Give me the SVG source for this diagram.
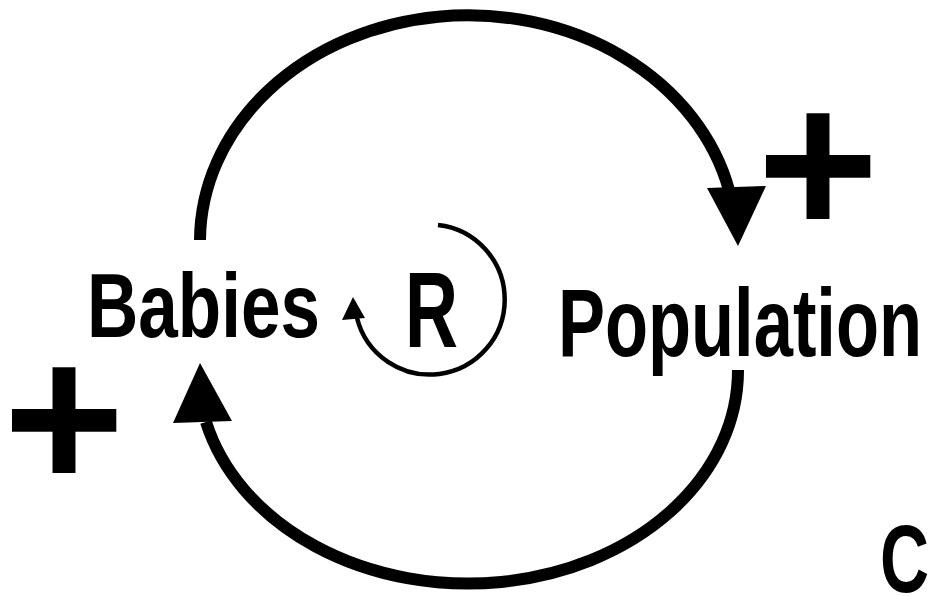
<svg xmlns="http://www.w3.org/2000/svg" width="933" height="596" viewBox="0 0 933 596">
<style>
.lbl{font-family:"Liberation Sans",Arial,sans-serif;font-weight:bold;fill:#000}
.big{fill:none;stroke:#000;stroke-width:12}
.thin{fill:none;stroke:#000;stroke-width:4.5}
.head{fill:#000}
</style>
<rect width="933" height="596" fill="#fff"/>
<g id="babies"><text class="lbl" x="87" y="337" font-size="90" textLength="233" lengthAdjust="spacingAndGlyphs">Babies</text></g>
<g id="population"><text class="lbl" x="558" y="356" font-size="96" textLength="364" lengthAdjust="spacingAndGlyphs">Population</text></g>
<g id="connectors">
<path class="big" d="M 200 240 A 268 226 0 0 1 729 190"/>
<polygon class="head" points="707,188 766,186 738,246"/>
<path class="big" d="M 738 370 A 270 213 0 0 1 206 422"/>
<polygon class="head" points="173,423 232,421 200,363"/>
<text class="lbl" x="818" y="235" font-size="208" text-anchor="middle">+</text>
<text class="lbl" x="64" y="489" font-size="208" text-anchor="middle">+</text>
</g>
<g id="loop">
<path class="thin" d="M 438 225 A 75 75 0 1 1 357 318"/>
<polygon class="head" points="342,320 365,318 353,297"/>
<text class="lbl" x="405" y="347" font-size="107" textLength="53" lengthAdjust="spacingAndGlyphs">R</text>
</g>
<g id="caption"><text class="lbl" x="880" y="592" font-size="96" textLength="49" lengthAdjust="spacingAndGlyphs">C</text></g>
</svg>
